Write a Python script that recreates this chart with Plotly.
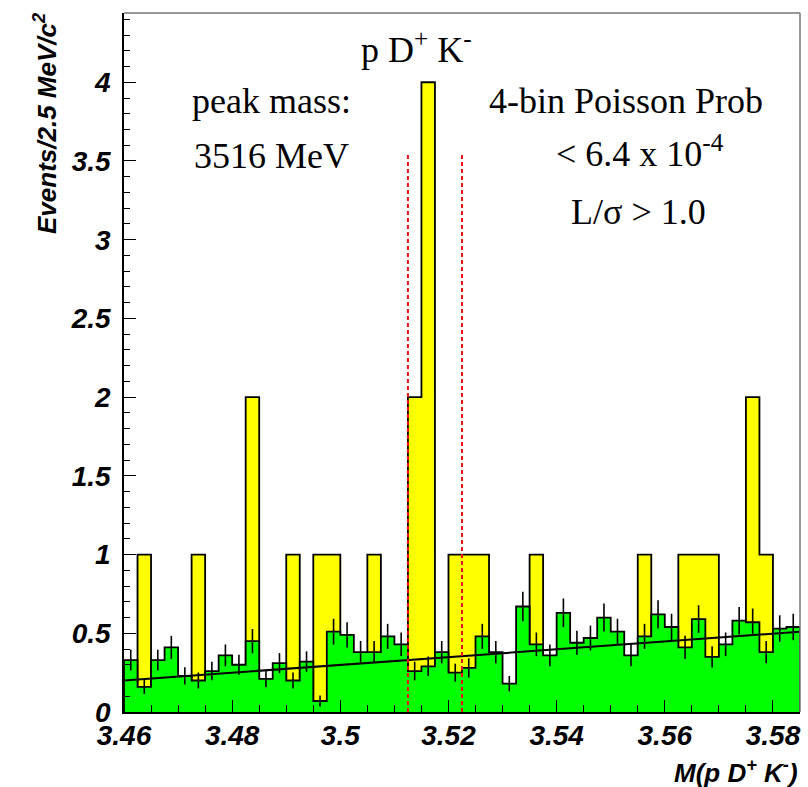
import numpy as np
import plotly.graph_objects as go

# ---------------- data ----------------
x_min, x_max, bin_width = 3.46, 3.585, 0.0025
y_max = 4.44

# yellow: signal-sample candidates per 2.5 MeV bin
data_counts = [0, 1, 0, 0, 0, 1, 0, 0, 0, 2,
               0, 0, 1, 0, 1, 1, 0, 0, 1, 0,
               0, 2, 4, 0, 1, 1, 1, 0, 0, 0,
               1, 0, 0, 0, 0, 0, 0, 0, 1, 0,
               0, 1, 1, 1, 0, 0, 2, 1, 0, 0]

# green: normalised background histogram
bg_counts = [0.33, 0.16, 0.33, 0.41, 0.23, 0.20, 0.26, 0.36, 0.30, 0.45,
             0.21, 0.31, 0.20, 0.32, 0.07, 0.51, 0.49, 0.38, 0.38, 0.48,
             0.43, 0.26, 0.29, 0.38, 0.25, 0.28, 0.48, 0.38, 0.18, 0.67,
             0.43, 0.36, 0.63, 0.44, 0.47, 0.60, 0.51, 0.36, 0.48, 0.62,
             0.54, 0.41, 0.59, 0.35, 0.43, 0.58, 0.57, 0.38, 0.53, 0.54]
bg_errors = [0.066, 0.046, 0.066, 0.074, 0.055, 0.051, 0.059, 0.069, 0.063, 0.077,
             0.053, 0.064, 0.051, 0.065, 0.035, 0.082, 0.080, 0.071, 0.071, 0.080,
             0.075, 0.059, 0.062, 0.071, 0.057, 0.061, 0.080, 0.071, 0.049, 0.094,
             0.075, 0.069, 0.091, 0.076, 0.079, 0.089, 0.082, 0.069, 0.080, 0.090,
             0.084, 0.074, 0.088, 0.068, 0.075, 0.087, 0.087, 0.071, 0.084, 0.084]

# linear background fit (end points)
fit_x = [3.46, 3.585]
fit_y = [0.20, 0.51]

# 4-bin signal window
window_edges = [3.5125, 3.5225]
window_top = 3.55

x_tickvals = [3.46, 3.48, 3.50, 3.52, 3.54, 3.56, 3.58]
x_ticktext = ["3.46", "3.48", "3.5", "3.52", "3.54", "3.56", "3.58"]
y_tickvals = [0, 0.5, 1, 1.5, 2, 2.5, 3, 3.5, 4]
y_ticktext = ["0", "0.5", "1", "1.5", "2", "2.5", "3", "3.5", "4"]

# ---------------- helpers ----------------
n_bins = len(data_counts)
edges = x_min + bin_width * np.arange(n_bins + 1)
centers = edges[:-1] + bin_width / 2


def step_xy(vals):
    xs = [edges[0]] + list(edges[:-1]) + [edges[-1], edges[-1]]
    ys = [0] + list(vals) + [vals[-1], 0]
    return xs, ys


fig = go.Figure()

xs, ys = step_xy(data_counts)
fig.add_trace(go.Scatter(x=xs, y=ys, mode="lines", line=dict(shape="hv", color="black", width=1.8),
                         fill="tozeroy", fillcolor="#ffff00", hoverinfo="skip", showlegend=False))

xs, ys = step_xy(bg_counts)
fig.add_trace(go.Scatter(x=xs, y=ys, mode="lines", line=dict(shape="hv", color="black", width=1.8),
                         fill="tozeroy", fillcolor="#00ff00", hoverinfo="skip", showlegend=False))

fig.add_trace(go.Scatter(x=centers, y=bg_counts, mode="markers",
                         marker=dict(size=1, color="rgba(0,0,0,0)"),
                         error_y=dict(type="data", array=bg_errors, color="black", thickness=1.6, width=0),
                         showlegend=False))

fig.add_trace(go.Scatter(x=fit_x, y=fit_y, mode="lines", line=dict(color="black", width=2),
                         showlegend=False))

for e in window_edges:
    fig.add_trace(go.Scatter(x=[e, e], y=[0, window_top], mode="lines",
                             line=dict(color="#ee1111", width=2, dash="4px,3px"), showlegend=False))

# ---------------- layout ----------------
L, R, T, B = 124, 8, 13, 75
W, H = 808, 787
pw, ph = W - L - R, H - T - B


def px(x):
    return (x - L) / pw


def py(y):
    return (H - B - y) / ph


tickfont = dict(family="Liberation Sans", size=28, color="black", weight="bold", style="italic")

fig.update_layout(
    width=W, height=H,
    margin=dict(l=L, r=R, t=T, b=B, pad=0),
    plot_bgcolor="white", paper_bgcolor="white",
    showlegend=False,
    xaxis=dict(range=[x_min, x_max], tickvals=x_tickvals, ticktext=x_ticktext,
               ticks="inside", ticklen=12, tickwidth=1, tickcolor="black",
               minor=dict(ticks="inside", ticklen=7, tickcolor="black", tickwidth=1, dtick=bin_width * 2, tick0=x_min),
               showline=True, linecolor="black", linewidth=1.5, showgrid=False, zeroline=False,
               tickfont=tickfont, ticklabelstandoff=-2),
    yaxis=dict(range=[0, y_max], tickvals=y_tickvals, ticktext=y_ticktext,
               ticks="inside", ticklen=12, tickwidth=1, tickcolor="black",
               minor=dict(ticks="inside", ticklen=6, tickcolor="black", tickwidth=1, dtick=0.1, tick0=0),
               showline=True, linecolor="black", linewidth=1.5, showgrid=False, zeroline=False,
               tickfont=tickfont, ticklabelstandoff=6),
    shapes=[
        dict(type="line", xref="paper", yref="paper", x0=0, x1=1, y0=1, y1=1, line=dict(color="#777", width=1.5)),
        dict(type="line", xref="paper", yref="paper", x0=1, x1=1, y0=0, y1=1, line=dict(color="#777", width=1.5)),
    ],
)

serif = dict(family="Liberation Serif", size=36, color="black")
ann = [
    ("p D<sup>+</sup> K<sup>-</sup>", 416, 47),
    ("peak mass:", 271, 101),
    ("3516 MeV", 271, 156),
    ("4-bin Poisson Prob", 626, 101),
    ("&lt; 6.4 x 10<sup>-4</sup>", 640, 152),
    ("L/σ &gt; 1.0", 638, 212),
]
for text, x, y in ann:
    fig.add_annotation(text=text, xref="paper", yref="paper", x=px(x), y=py(y),
                       xanchor="center", yanchor="middle", showarrow=False, font=serif)

fig.add_annotation(text="<b><i>Events/2.5 MeV/c<sup>2</sup></i></b>", xref="paper", yref="paper",
                   x=px(46), y=py(124), xanchor="center", yanchor="middle", textangle=-90,
                   showarrow=False, font=dict(family="Liberation Sans", size=26, color="black"))
fig.add_annotation(text="<b><i>M(p D<sup>+</sup> K<sup>-</sup>)</i></b>", xref="paper", yref="paper",
                   x=1, y=py(771), xanchor="right", yanchor="middle",
                   showarrow=False, font=dict(family="Liberation Sans", size=26, color="black"))

fig.write_html("out.html")
